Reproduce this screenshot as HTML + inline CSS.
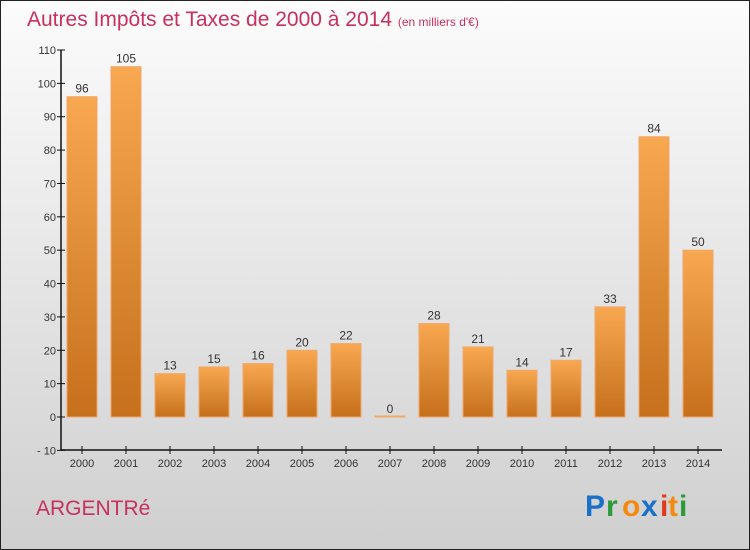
<!DOCTYPE html>
<html><head><meta charset="utf-8"><style>
body{margin:0}
#c{width:750px;height:550px;position:relative;overflow:hidden}
text{font-family:"Liberation Sans",sans-serif}
</style></head><body>
<div id="c">
<svg id="s" width="750" height="550" xmlns="http://www.w3.org/2000/svg">
<defs>
<linearGradient id="bg" x1="0" y1="0" x2="0" y2="1"><stop offset="0" stop-color="#fcfcfc"/><stop offset="1" stop-color="#cfcfcf"/></linearGradient>
<linearGradient id="bar" x1="0" y1="0" x2="0" y2="1"><stop offset="0" stop-color="#f8a850"/><stop offset="1" stop-color="#c66f1c"/></linearGradient>
</defs>
<rect x="0.5" y="0.5" width="749" height="549" fill="url(#bg)" stroke="#222"/>
<text x="27" y="26" font-size="21" fill="#c8305f">Autres Impôts et Taxes de 2000 à 2014 <tspan font-size="12">(en milliers d'€)</tspan></text>
<text x="36" y="515" font-size="21" fill="#c8305f">ARGENTRé</text>
<g font-size="30" font-family="'DejaVu Sans',sans-serif" font-weight="bold">
<text x="585" y="516" fill="#1a6fc9">P</text><text x="606" y="516" fill="#2a9a3a">r</text><text x="622" y="516" fill="#f38a10">o</text><text x="641" y="516" fill="#1a6fc9">x</text><text x="660" y="516" fill="#e03a1a">i</text><text x="668" y="516" fill="#f38a10">t</text><text x="679" y="516" fill="#2a9a3a">i</text>
</g>
<g id="plot"></g>
</svg>
</div>
<script>
const categories=["2000","2001","2002","2003","2004","2005","2006","2007","2008","2009","2010","2011","2012","2013","2014"];
const values=[96,105,13,15,16,20,22,0,28,21,14,17,33,84,50];
const yTicks=[-10,0,10,20,30,40,50,60,70,80,90,100,110];
const ns="http://www.w3.org/2000/svg";
const g=document.getElementById('plot');
const y=v=>417-(v)*(367/110);
const x=i=>82+i*44;
function el(t,a,p){const e=document.createElementNS(ns,t);for(const k in a)e.setAttribute(k,a[k]);(p||g).appendChild(e);return e;}
yTicks.forEach(t=>{
 const l=el('line',{x1:57,x2:65,y1:y(t),y2:y(t),stroke:'#111'});
 
 
 const tx=el('text',{x:56,y:y(t)+4,'text-anchor':'end','font-size':11,fill:'#333'});
 tx.textContent=t===-10?'- 10':String(t);
 
 
});
categories.forEach((c,i)=>{
 const v=values[i];
 const top=y(Math.max(v,0)), h=Math.max(Math.abs(y(v)-y(0)),1);
 const r=el('rect',{x:x(i)-15,y:v>0?top:y(0)-1,width:30,height:h,fill:'url(#bar)',stroke:'#f0a868','stroke-width':1});
 
 
 const vl=el('text',{x:x(i),y:(v>0?top:y(0))-4,'text-anchor':'middle','font-size':12,fill:'#333'});
 vl.textContent=String(v);
 
 
 const tk=el('line',{x1:x(i),x2:x(i),y1:446,y2:454,stroke:'#111'});
 
 
 const xl=el('text',{x:x(i),y:467,'text-anchor':'middle','font-size':11,fill:'#333'});
 xl.textContent=c;
 
 
});
const ya=el('line',{x1:61,x2:61,y1:y(110),y2:450,stroke:'#111','stroke-width':1.5});


const xa=el('line',{x1:61,x2:722,y1:450,y2:450,stroke:'#111','stroke-width':1.5});


</script>
</body></html>
